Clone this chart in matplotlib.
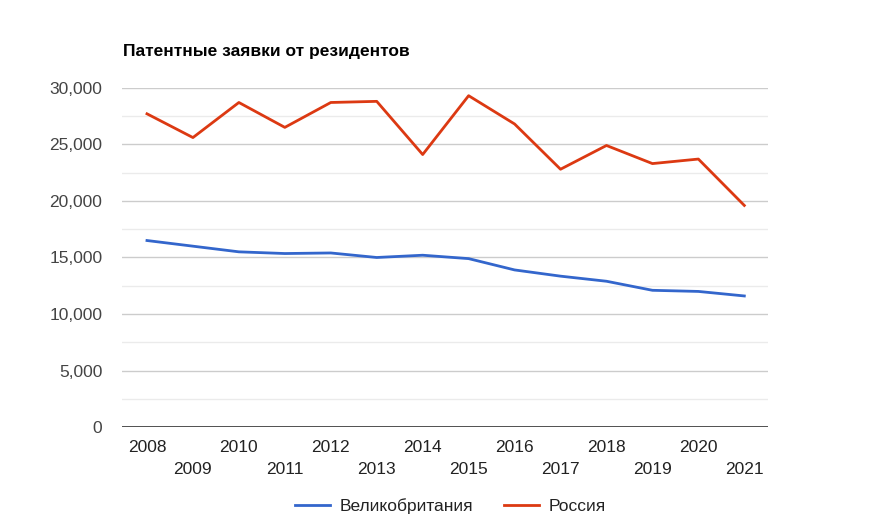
import matplotlib
matplotlib.use("Agg")
import matplotlib.pyplot as plt
import numpy as np

plt.rcParams['font.family'] = ['Liberation Sans', 'DejaVu Sans']

years = [2008, 2009, 2010, 2011, 2012, 2013, 2014, 2015, 2016, 2017, 2018, 2019, 2020, 2021]
uk = [16500, 16000, 15500, 15350, 15400, 15000, 15200, 14900, 13900, 13350, 12900, 12100, 12000, 11600]
russia = [27700, 25600, 28700, 26500, 28700, 28800, 24100, 29300, 26800, 22800, 24900, 23300, 23700, 19600]

fig = plt.figure(figsize=(8.71, 5.32), dpi=100)
ax = fig.add_axes([0.140, 0.197, 0.742, 0.638])

x = np.arange(len(years))

# gridlines: major every 5000, minor in between
for v in np.arange(2500, 30000, 5000):
    ax.axhline(v, color='#ebebeb', linewidth=1, zorder=0)
for v in np.arange(5000, 30001, 5000):
    ax.axhline(v, color='#cccccc', linewidth=1, zorder=0)
ax.axhline(0, color='#333333', linewidth=1.2, zorder=1)

ax.plot(x, uk, color='#3366cc', linewidth=2, label='Великобритания', zorder=3)
ax.plot(x, russia, color='#dc3912', linewidth=2, label='Россия', zorder=3)

ax.set_xlim(-0.545, 13.52)
ax.set_ylim(0, 30000)
for s in ax.spines.values():
    s.set_visible(False)

ax.set_yticks(np.arange(0, 30001, 5000))
ax.set_yticklabels([f'{v:,}' for v in range(0, 30001, 5000)], fontsize=12.5, color='#444444')
ax.tick_params(axis='y', length=0, pad=14)

# staggered year labels
ax.set_xticks(x)
ax.set_xticklabels([])
ax.tick_params(axis='x', length=0)
for i, yr in enumerate(years):
    ax.annotate(str(yr), xy=(i, 0), xycoords='data',
                xytext=(0, -9 if i % 2 == 0 else -25), textcoords='offset points',
                ha='center', va='top', fontsize=12.5, color='#222222')

fig.text(0.141, 0.904, 'Патентные заявки от резидентов', fontsize=12.5, fontweight='bold',
         color='#000000', ha='left', va='center')

leg = fig.legend(loc='center', bbox_to_anchor=(0.517, 0.049), ncol=2, frameon=False,
                 fontsize=12.5, handlelength=2.0, columnspacing=1.8, handletextpad=0.55)
for t in leg.get_texts():
    t.set_color('#222222')

fig.savefig('out.png', dpi=100)
